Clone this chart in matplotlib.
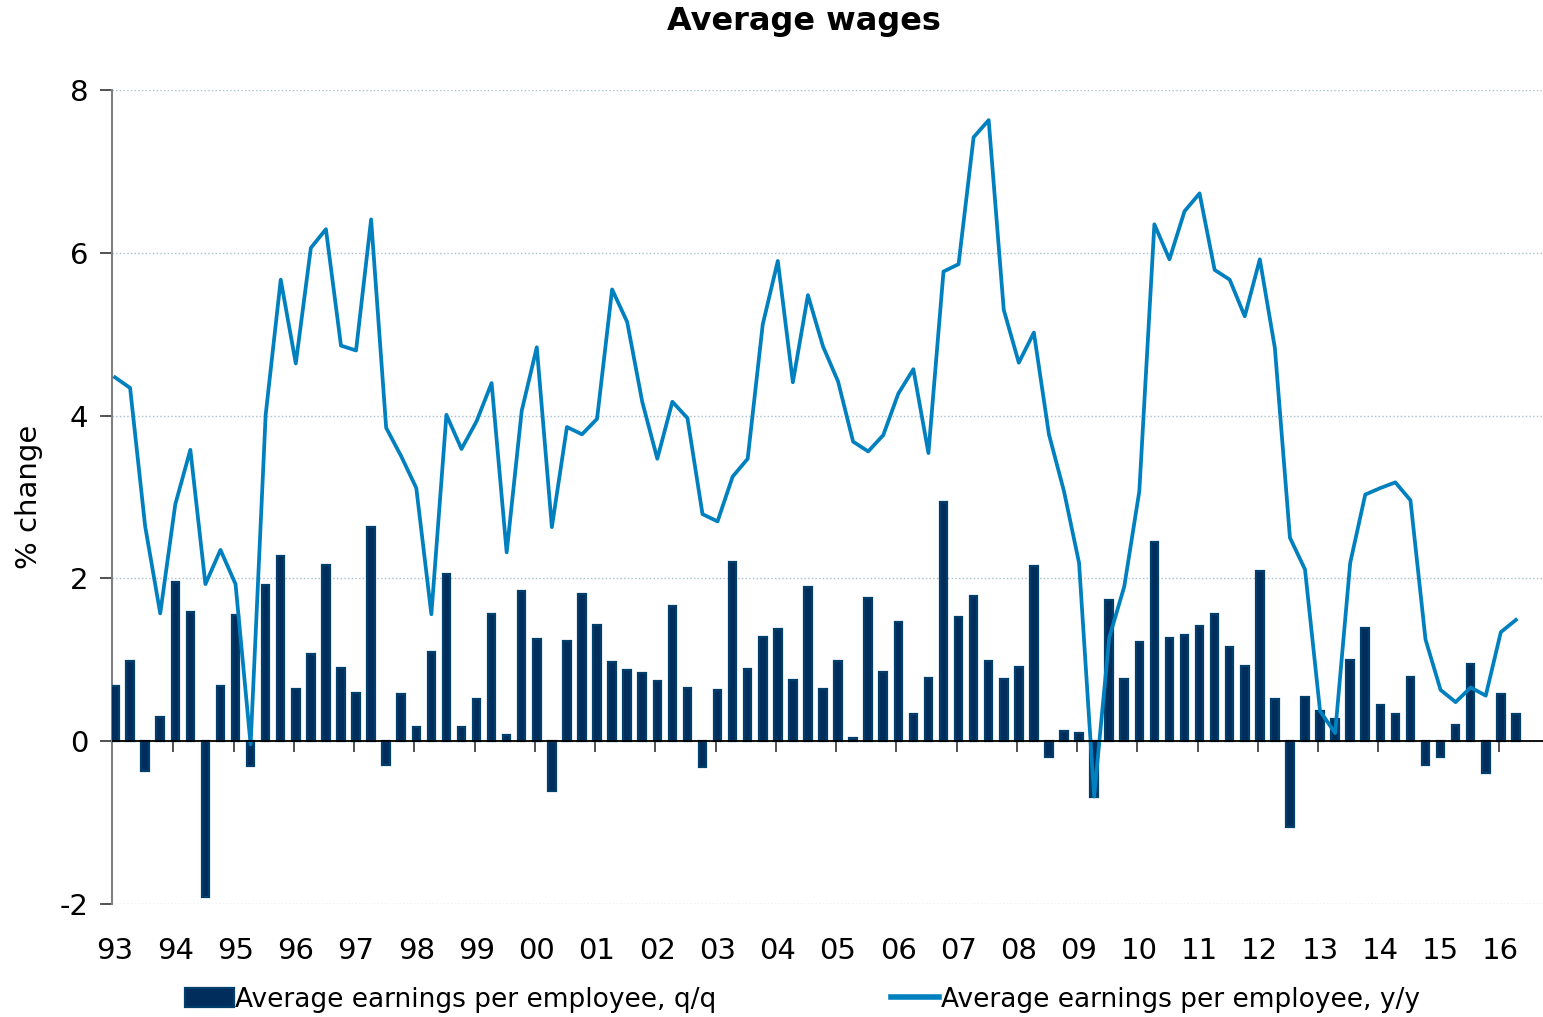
import matplotlib
matplotlib.use('Agg')
import matplotlib.pyplot as plt
import numpy as np

plt.rcParams['font.family'] = ['DejaVu Sans']
plt.rcParams['axes.unicode_minus'] = False

# quarterly data, 1993Q1 .. 2016Q2
years = ['93', '94', '95', '96', '97', '98', '99', '00', '01', '02', '03', '04',
         '05', '06', '07', '08', '09', '10', '11', '12', '13', '14', '15', '16']

qq = [0.68, 0.98, -0.37, 0.30, 1.95, 1.59, -1.92, 0.68, 1.55, -0.31, 1.92, 2.28,
      0.64, 1.07, 2.16, 0.90, 0.59, 2.63, -0.29, 0.58, 0.18, 1.10, 2.06, 0.18,
      0.52, 1.56, 0.08, 1.85, 1.25, -0.61, 1.23, 1.81, 1.43, 0.97, 0.88, 0.84,
      0.74, 1.66, 0.65, -0.32, 0.63, 2.20, 0.89, 1.28, 1.38, 0.75, 1.90, 0.64,
      0.98, 0.04, 1.76, 0.85, 1.47, 0.34, 0.78, 2.94, 1.52, 1.79, 0.99, 0.77,
      0.91, 2.15, -0.20, 0.12, 0.10, -0.68, 1.73, 0.76, 1.22, 2.45, 1.27, 1.31,
      1.42, 1.56, 1.16, 0.92, 2.09, 0.52, -1.06, 0.54, 0.37, 0.27, 1.00, 1.39,
      0.45, 0.34, 0.79, -0.29, -0.20, 0.20, 0.95, -0.39, 0.58, 0.34]

yy = [4.47, 4.34, 2.64, 1.57, 2.91, 3.58, 1.93, 2.35, 1.93, -0.04, 4.01, 5.67,
      4.64, 6.06, 6.29, 4.86, 4.80, 6.41, 3.85, 3.50, 3.11, 1.56, 4.01, 3.59,
      3.93, 4.40, 2.32, 4.06, 4.84, 2.63, 3.86, 3.77, 3.96, 5.55, 5.15, 4.17,
      3.47, 4.17, 3.97, 2.79, 2.70, 3.25, 3.47, 5.12, 5.90, 4.41, 5.48, 4.85,
      4.42, 3.68, 3.56, 3.76, 4.27, 4.57, 3.54, 5.77, 5.86, 7.42, 7.63, 5.30,
      4.65, 5.02, 3.77, 3.07, 2.19, -0.68, 1.27, 1.90, 3.07, 6.35, 5.92, 6.51,
      6.73, 5.79, 5.67, 5.22, 5.92, 4.83, 2.50, 2.11, 0.37, 0.10, 2.19, 3.03,
      3.11, 3.18, 2.96, 1.25, 0.63, 0.48, 0.66, 0.56, 1.34, 1.49]

x = np.arange(len(qq))

fig = plt.figure(figsize=(15.43, 10.17), dpi=100)
ax = fig.add_axes([0.0726, 0.1111, 0.9274, 0.8004])

bars = ax.bar(x, qq, width=0.5, color='#002d5c', edgecolor='#003f6c', linewidth=1.6,
              label='Average earnings per employee, q/q', zorder=3)
line, = ax.plot(x, yy, color='#0080bf', linewidth=2.7,
                label='Average earnings per employee, y/y', zorder=4)

ax.set_xlim(-0.2, 94.8)
ax.set_ylim(-2, 8)
ax.set_yticks([-2, 0, 2, 4, 6, 8])
ax.tick_params(axis='y', labelsize=21, length=9, width=1.2, color='#333333', pad=8)
ax.yaxis.grid(True, linestyle=':', color='#a9bfcc', linewidth=1)
ax.set_axisbelow(True)
ax.axhline(0, color='black', linewidth=1.3, zorder=5)

ax.set_xticks(x[::4])
ax.set_xticklabels(years)
ax.tick_params(axis='x', labelsize=21, length=0, pad=24)

# year tick marks sitting on the zero line
sec = ax.secondary_xaxis(0.2)
sec.set_xticks(x[::4][1:] - 0.13)
sec.tick_params(axis='x', length=8, width=1.2, color='#333333', labelbottom=False)
sec.spines['bottom'].set_visible(False)

for s in ['top', 'right', 'bottom']:
    ax.spines[s].set_visible(False)
ax.spines['left'].set_color('#808080')
ax.spines['left'].set_linewidth(1.5)

ax.set_ylabel('% change', fontsize=21)
ax.yaxis.set_label_coords(-0.048, 0.5)

fig.text(0.521, 0.979, 'Average wages', ha='center', va='center',
         fontsize=23, fontweight='bold')

leg = fig.legend([bars, line], [bars.get_label(), line.get_label()],
                 loc='center', bbox_to_anchor=(0.52, 0.017), ncol=2, frameon=False,
                 fontsize=19, handlelength=1.85, handletextpad=0.05, columnspacing=6.6,
                 handleheight=0.75)
leg.get_lines()[0].set_linewidth(4)

fig.savefig('out.png', dpi=100)
